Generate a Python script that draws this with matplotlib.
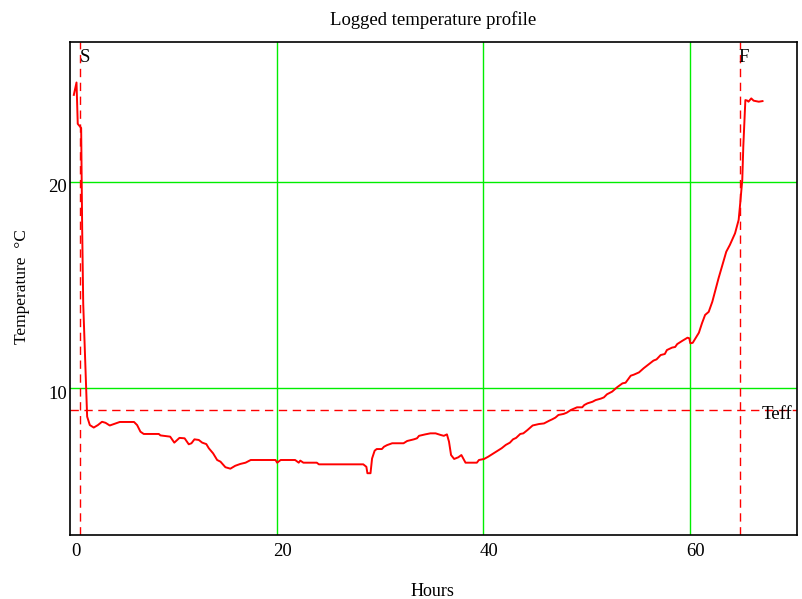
import matplotlib
matplotlib.use("Agg")
import matplotlib.pyplot as plt
from matplotlib.transforms import ScaledTranslation

plt.rcParams['font.family'] = ['Liberation Serif', 'DejaVu Serif']

hours = [0.37, 0.63, 0.75, 1.08, 1.18, 1.28, 1.66, 1.92, 2.3, 2.7, 3.1, 3.44, 3.85, 4.24, 4.82,
         6.2, 6.5, 6.82, 7.14, 8.6, 8.76, 9.7, 10.1, 10.6, 11.1, 11.5, 11.76, 12.05, 12.47, 12.8,
         13.2, 13.44, 13.86, 14.25, 14.57, 15.05, 15.53, 16.0, 16.5, 17.0, 17.5, 18.4, 19.9, 20.06,
         20.4, 21.8, 22.15, 22.3, 22.6, 23.9, 24.1, 28.4, 28.7, 28.8, 29.1, 29.25, 29.5, 29.7,
         30.2, 30.4, 30.7, 31.2, 32.3, 32.65, 33.3, 33.6, 33.8, 34.4, 34.9, 35.4, 35.9, 36.2,
         36.5, 36.7, 36.9, 37.2, 37.6, 37.9, 38.1, 38.3, 39.4, 39.6, 40.1, 40.5, 41.0, 41.5,
         41.8, 42.2, 42.6, 42.9, 43.2, 43.6, 43.9, 44.3, 44.8, 45.4, 45.9, 46.4, 46.7, 47.0,
         47.3, 47.8, 48.1, 48.5, 49.1, 49.6, 49.8, 50.1, 50.6, 50.9, 51.4, 51.7, 52.0, 52.5,
         52.98, 53.5, 53.8, 54.3, 54.6, 55.1, 55.55, 56.04, 56.5, 56.8, 57.2, 57.6, 57.8, 58.3,
         58.6, 58.8, 59.3, 59.8, 59.97, 60.07, 60.3, 60.9, 61.2, 61.5, 61.85, 62.2, 62.8, 63.55,
         63.9, 64.4, 64.75, 64.9, 65.1, 65.2, 65.4, 65.6, 65.7, 65.97, 66.2, 66.7, 67.06]
temps = [24.2, 24.8, 22.8, 22.6, 17.7, 14.1, 8.63, 8.22, 8.1, 8.22, 8.38, 8.33, 8.2, 8.27, 8.37,
         8.37, 8.22, 7.9, 7.79, 7.79, 7.72, 7.66, 7.37, 7.6, 7.58, 7.29, 7.34, 7.53, 7.5, 7.37,
         7.3, 7.1, 6.85, 6.53, 6.45, 6.18, 6.11, 6.25, 6.34, 6.4, 6.53, 6.53, 6.53, 6.4,
         6.53, 6.53, 6.4, 6.5, 6.4, 6.4, 6.32, 6.32, 6.2, 5.89, 5.89, 6.6, 6.98, 7.06,
         7.06, 7.17, 7.25, 7.34, 7.34, 7.45, 7.53, 7.58, 7.7, 7.77, 7.82, 7.82, 7.74, 7.7,
         7.77, 7.42, 6.77, 6.58, 6.66, 6.77, 6.58, 6.4, 6.4, 6.53, 6.58, 6.69, 6.85, 7.01,
         7.1, 7.26, 7.37, 7.53, 7.6, 7.79, 7.82, 7.98, 8.2, 8.27, 8.3, 8.43, 8.5, 8.58,
         8.71, 8.76, 8.82, 8.95, 9.08, 9.08, 9.19, 9.27, 9.35, 9.43, 9.5, 9.56, 9.71, 9.84,
         10.05, 10.24, 10.27, 10.61, 10.66, 10.77, 10.97, 11.16, 11.34, 11.4, 11.61, 11.66, 11.85, 11.97,
         12.0, 12.14, 12.3, 12.45, 12.42, 12.18, 12.2, 12.69, 13.15, 13.55, 13.7, 14.19, 15.32, 16.61,
         16.94, 17.5, 18.15, 18.95, 20.08, 21.7, 23.95, 23.92, 23.87, 24.03, 23.92, 23.87, 23.9]

start_hour = 1.0
finish_hour = 64.9
t_eff = 8.95
x_ticks = [0, 20, 40, 60]
y_ticks = [10, 20]

fig = plt.figure(figsize=(8.02, 5.99), dpi=100)
ax = fig.add_axes([70/802, 1-535/599, (797-70)/802, (535-42)/599])

ax.set_xlim(0, 70.4)
ax.set_ylim(2.9, 26.76)

green = '#00ee00'
for xv in x_ticks[1:]:
    ax.axvline(xv, color=green, lw=1.0, zorder=1)
for yv in y_ticks:
    ax.axhline(yv, color=green, lw=1.0, zorder=1)

dash = (0, (6, 4))
ax.axvline(start_hour, color='red', lw=1.0, linestyle=dash, zorder=2)
ax.axvline(finish_hour, color='red', lw=1.0, linestyle=dash, zorder=2)
ax.axhline(t_eff, color='red', lw=1.0, linestyle=dash, zorder=2)

ax.plot(hours, temps, color='red', lw=1.4, zorder=3)

fs = 13.5
ax.text(1.4, 26.0, 'S', fontsize=fs, ha='center', va='center')
ax.text(65.2, 26.0, 'F', fontsize=fs, ha='center', va='center')
ax.text(67.0, 8.75, 'Teff', fontsize=fs, ha='left', va='center')

ax.set_xticks(x_ticks)
ax.set_yticks(y_ticks)
ax.tick_params(axis='x', length=0, labelsize=fs, pad=6)
ax.tick_params(axis='y', length=0, labelsize=fs, pad=2)
for lab in ax.get_xticklabels():
    lab.set_transform(lab.get_transform() + ScaledTranslation(6/100, 0, fig.dpi_scale_trans))
for lab in ax.get_yticklabels():
    lab.set_transform(lab.get_transform() + ScaledTranslation(0, -4/100, fig.dpi_scale_trans))

for sp in ax.spines.values():
    sp.set_linewidth(1.2)
    sp.set_color('black')

fig.text(433/802, 1-20/599, 'Logged temperature profile', fontsize=fs, ha='center', va='center')
fig.text(432/802, 1-591/599, 'Hours', fontsize=13, ha='center', va='center')
fig.text(22/802, 1-287/599, 'Temperature  °C', fontsize=12.5, ha='center', va='center', rotation=90)

fig.savefig('out.png', dpi=100)
